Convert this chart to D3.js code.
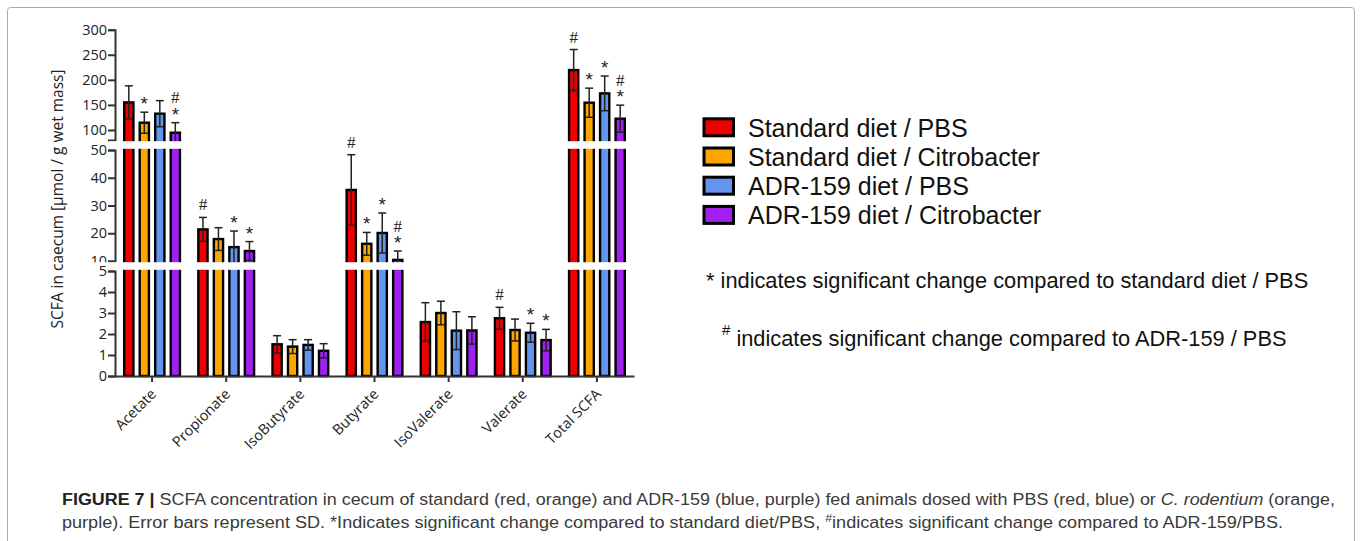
<!DOCTYPE html>
<html>
<head>
<meta charset="utf-8">
<script src="https://cdn.jsdelivr.net/npm/d3@7"></script>
<style>
  body { margin: 0; background: #fff; }
</style>
</head>
<body>
<svg id="fig" width="1360" height="541"></svg>
<script>
(function() {
  // ---- data ----
  var categories = ["Acetate", "Propionate", "IsoButyrate", "Butyrate", "IsoValerate", "Valerate", "Total SCFA"];
  var groups = ["Standard diet / PBS", "Standard diet / Citrobacter", "ADR-159 diet / PBS", "ADR-159 diet / Citrobacter"];
  var colors = ["#ee0000", "#ffa500", "#6495ed", "#a020f0"];

  var stdPBS = [155, 21.4, 1.51, 35.6, 2.57, 2.75, 219.5];
  var stdCit = [114.5, 17.9, 1.40, 16.2, 3.00, 2.19, 154.4];
  var adrPBS = [132.5, 15.0, 1.48, 20.1, 2.16, 2.06, 173];
  var adrCit = [94.6, 13.6, 1.20, 10.4, 2.17, 1.71, 122.5];

  var sdStdPBS = [33, 4.3, 0.41, 12.7, 0.92, 0.52, 41];
  var sdStdCit = [21, 4.1, 0.33, 4.1, 0.56, 0.52, 29];
  var sdAdrPBS = [26, 5.8, 0.25, 7.2, 0.90, 0.45, 34.6];
  var sdAdrCit = [20, 3.4, 0.34, 3.2, 0.65, 0.51, 27];

  // markers, read from top to bottom
  var sigStdPBS = ["", "#", "", "#", "", "#", "#"];
  var sigStdCit = ["*", "", "", "*", "", "", "*"];
  var sigAdrPBS = ["", "*", "", "*", "", "*", "*"];
  var sigAdrCit = ["#*", "*", "", "#*", "", "*", "#*"];

  var yTicksTop = [100, 150, 200, 250, 300];
  var yTicksMid = [10, 20, 30, 40, 50];
  var yTicksLow = [0, 1, 2, 3, 4, 5];

  var values = [stdPBS, stdCit, adrPBS, adrCit];
  var sds = [sdStdPBS, sdStdCit, sdAdrPBS, sdAdrCit];
  var sigs = [sigStdPBS, sigStdCit, sigAdrPBS, sigAdrCit];

  var svg = d3.select("#fig");
  var axisColor = "#333";

  // ---- scales: a y axis broken in three pieces ----
  var yTop = d3.scaleLinear().domain([80, 300]).range([140, 29.7]);
  var yMid = d3.scaleLinear().domain([10, 50]).range([261, 150]);
  var yLow = d3.scaleLinear().domain([0, 5]).range([376, 271]);
  var y = function(v) {
    if (v > 50) return yTop(v);
    if (v > 5) return yMid(v);
    return yLow(v);
  };
  var baseY = yLow(0);

  var x0 = d3.scaleBand().domain(categories).range([115, 634]).padding(0);
  var x1 = d3.scaleBand().domain(groups).range([8, x0.bandwidth() - 8]).paddingInner(0.25);

  // frame
  svg.append("rect")
    .attr("x", 7.5).attr("y", 7.5).attr("width", 1347).attr("height", 560)
    .attr("rx", 3)
    .style("fill", "none").style("stroke", "#aaa").style("stroke-width", 1);

  // ---- bars ----
  var bars = [];
  categories.forEach(function(c, ci) {
    groups.forEach(function(g, gi) {
      bars.push({cat: c, grp: g, gi: gi, v: values[gi][ci], sd: sds[gi][ci], sig: sigs[gi][ci]});
    });
  });

  var bw = x1.bandwidth();
  var sw = 2.4;

  svg.append("g").selectAll("rect").data(bars).enter().append("rect")
    .attr("x", function(d) { return x0(d.cat) + x1(d.grp) + sw / 2; })
    .attr("y", function(d) { return y(d.v); })
    .attr("width", bw - sw)
    .attr("height", function(d) { return baseY - y(d.v); })
    .style("fill", function(d) { return colors[d.gi]; })
    .style("stroke", "#000")
    .style("stroke-width", sw);

  // error bars
  var eg = svg.append("g").style("stroke", "#222").style("stroke-width", 1.5);
  bars.forEach(function(d) {
    var cx = x0(d.cat) + x1(d.grp) + bw / 2;
    var hi = y(d.v + d.sd), lo = y(d.v - d.sd);
    eg.append("line").attr("x1", cx).attr("x2", cx).attr("y1", hi).attr("y2", lo);
    eg.append("line").attr("x1", cx - 4).attr("x2", cx + 4).attr("y1", hi).attr("y2", hi);
    eg.append("line").attr("x1", cx - 4).attr("x2", cx + 4).attr("y1", lo).attr("y2", lo);
  });

  // ---- axes ----
  function styleAxis(g) {
    g.selectAll("path, line").style("stroke", axisColor).style("stroke-width", 2);
    g.selectAll("text").style("font-family", "Open Sans, sans-serif").style("font-size", "14.5px").style("fill", "#222");
  }
  function yAxis(scale, ticks) {
    svg.append("g")
      .attr("transform", "translate(115,0)")
      .call(d3.axisLeft(scale).tickValues(ticks).tickSizeInner(7).tickSizeOuter(7).tickPadding(1).tickFormat(d3.format("d")))
      .call(styleAxis);
  }

  yAxis(yTop, yTicksTop);
  yAxis(yMid, yTicksMid);

  // white gaps for the axis breaks (the lower one clips the "10" label as in the original)
  svg.append("rect").attr("x", 109).attr("y", 141.2).attr("width", 535).attr("height", 7.6).style("fill", "#fff");
  svg.append("rect").attr("x", 80).attr("y", 262.2).attr("width", 564).attr("height", 7.6).style("fill", "#fff");

  yAxis(yLow, yTicksLow);

  // significance markers
  var mg = svg.append("g").style("fill", "#222");
  bars.forEach(function(d) {
    var cx = x0(d.cat) + x1(d.grp) + bw / 2;
    var capY = y(d.v + d.sd);
    var marks = d.sig.split("").reverse();
    marks.forEach(function(m, i) {
      var cy = capY - 13 - i * 12.5;
      if (m === "*") {
        mg.append("text").attr("x", cx).attr("y", cy + 11)
          .attr("text-anchor", "middle")
          .style("font-family", "Liberation Sans, Arial, sans-serif")
          .style("font-size", "19px").text("*");
      } else {
        mg.append("text").attr("x", cx).attr("y", cy + 6)
          .attr("text-anchor", "middle")
          .style("font-family", "Liberation Serif, Times New Roman, serif")
          .style("font-size", "17px").text("#");
      }
    });
  });

  var xAxis = svg.append("g")
    .attr("transform", "translate(0," + baseY + ")")
    .call(d3.axisBottom(x0).tickSizeInner(6).tickSizeOuter(0))
    .call(styleAxis);
  xAxis.selectAll("text")
    .attr("text-anchor", "end")
    .attr("dy", null)
    .attr("y", 0)
    .style("font-size", "14.5px")
    .attr("transform", "translate(5,19) rotate(-45)");

  // y title
  svg.append("text")
    .attr("transform", "translate(63,199) rotate(-90)")
    .attr("text-anchor", "middle")
    .style("font-family", "Open Sans, sans-serif")
    .style("font-size", "15.5px")
    .style("fill", "#222")
    .text("SCFA in caecum [\u03bcmol / g wet mass]");

  // ---- legend ----
  var lg = svg.append("g");
  groups.forEach(function(g, i) {
    var by = 136.5 + i * 29.2;
    lg.append("rect").attr("x", 704).attr("y", by - 17.7).attr("width", 29.5).attr("height", 17)
      .style("fill", colors[i]).style("stroke", "#000").style("stroke-width", 3);
    lg.append("text").attr("x", 748).attr("y", by)
      .style("font-family", "Liberation Sans, Arial, sans-serif")
      .style("font-size", "25px").style("fill", "#111")
      .text(g);
  });

  var noteFont = "Liberation Sans, Arial, sans-serif";
  svg.append("text").attr("x", 706).attr("y", 288)
    .style("font-family", noteFont).style("font-size", "21.8px").style("fill", "#111")
    .text("* indicates significant change compared to standard diet / PBS");
  var n2 = svg.append("text").attr("x", 722).attr("y", 346)
    .style("font-family", noteFont).style("font-size", "21.8px").style("fill", "#111");
  n2.append("tspan").attr("dy", -11).style("font-size", "15px").text("#");
  n2.append("tspan").attr("dy", 11).text(" indicates significant change compared to ADR-159 / PBS");

  // ---- caption ----
  var capFont = "Liberation Sans, Arial, sans-serif";
  var c1 = svg.append("text").attr("x", 62).attr("y", 505)
    .attr("textLength", 1273).attr("lengthAdjust", "spacingAndGlyphs")
    .style("font-family", capFont).style("font-size", "16px").style("fill", "#3a3a3a");
  c1.append("tspan").style("font-weight", "bold").style("fill", "#222").text("FIGURE 7 | ");
  c1.append("tspan").text("SCFA concentration in cecum of standard (red, orange) and ADR-159 (blue, purple) fed animals dosed with PBS (red, blue) or ");
  c1.append("tspan").style("font-style", "italic").text("C. rodentium");
  c1.append("tspan").text(" (orange,");

  var c2 = svg.append("text").attr("x", 62).attr("y", 528)
    .attr("textLength", 1221).attr("lengthAdjust", "spacingAndGlyphs")
    .style("font-family", capFont).style("font-size", "16px").style("fill", "#3a3a3a");
  c2.append("tspan").text("purple). Error bars represent SD. *Indicates significant change compared to standard diet/PBS, ");
  c2.append("tspan").attr("dy", -6).style("font-size", "11px").text("#");
  c2.append("tspan").attr("dy", 6).text("indicates significant change compared to ADR-159/PBS.");
})();
</script>
</body>
</html>
